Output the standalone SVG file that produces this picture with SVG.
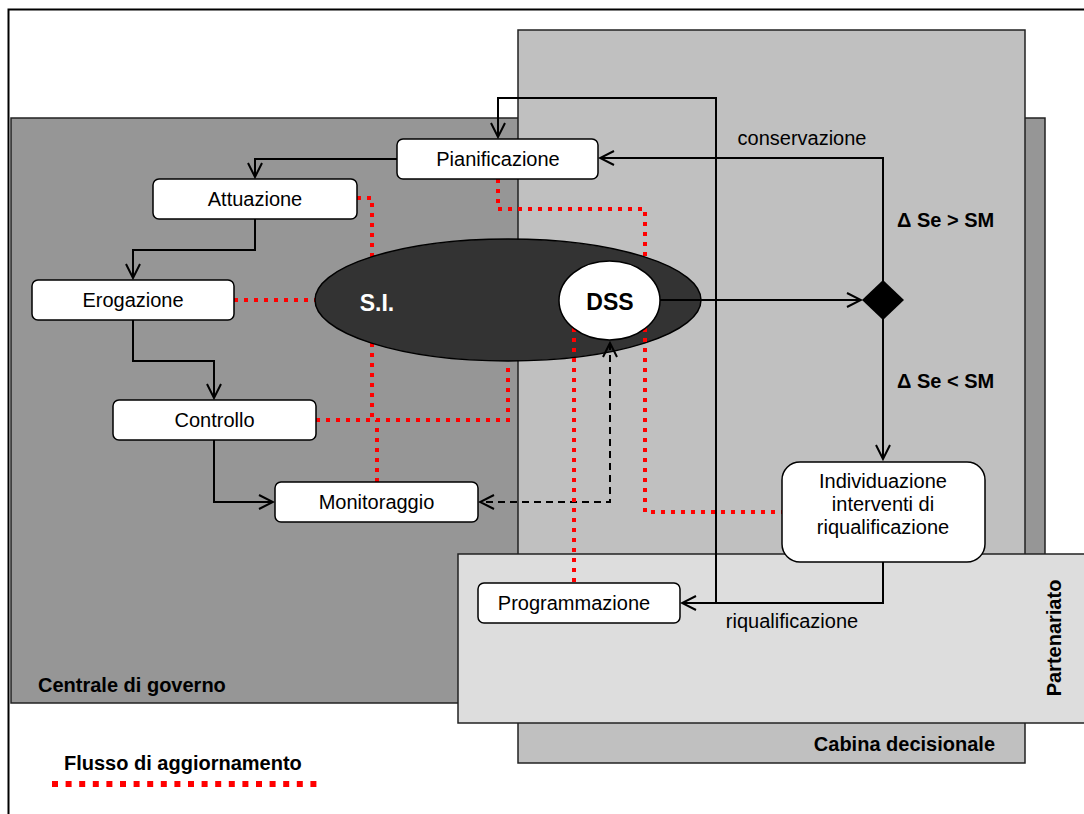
<svg xmlns="http://www.w3.org/2000/svg" width="1084" height="814" viewBox="0 0 1084 814">
<style>
.panel{stroke:#222;stroke-width:1.5}
.box{fill:#fff;stroke:#000;stroke-width:1.5}
.t{font-family:"Liberation Sans",Arial,sans-serif;font-size:20px;fill:#000;text-anchor:middle}
.b{font-family:"Liberation Sans",Arial,sans-serif;font-size:20px;font-weight:bold;fill:#000}
.c{fill:none;stroke:#000;stroke-width:2}
.d{fill:none;stroke:#000;stroke-width:2;stroke-dasharray:7 5}
.r{fill:none;stroke:#ff0000;stroke-width:4;stroke-dasharray:4 6}
</style>
<defs>
<marker id="arr" markerUnits="userSpaceOnUse" markerWidth="18" markerHeight="18" viewBox="0 0 18 18" refX="16" refY="9" orient="auto-start-reverse">
<path d="M2,2 L16,9 L2,16" fill="none" stroke="#000" stroke-width="2"/>
</marker>
</defs>
<rect x="0" y="0" width="1084" height="814" fill="#fff"/>
<rect x="8.5" y="9.5" width="1100" height="830" fill="#fff" stroke="#000" stroke-width="2"/>
<g id="centrale">
<rect class="panel" x="11" y="118" width="1034" height="585" fill="#969696"/>
<text class="b" x="38" y="692">Centrale di governo</text>
</g>
<g id="cabina">
<rect class="panel" x="518" y="30" width="507" height="733" fill="#c0c0c0"/>
<text class="b" x="995" y="751" text-anchor="end">Cabina decisionale</text>
</g>
<g id="partenariato">
<rect class="panel" x="458" y="554" width="640" height="169" fill="#dddddd"/>
<text class="b" transform="translate(1061,638) rotate(-90)" text-anchor="middle">Partenariato</text>
</g>
<g id="red-under">
<path class="r" d="M357,198 H372 V420"/>
<path class="r" d="M377,482 V420"/>
<path class="r" d="M316,420 H508 V362"/>
<path class="r" d="M234,300 H316"/>
<path class="r" d="M498,179 V209 H645 V258"/>
</g>
<g id="si">
<ellipse cx="508" cy="300" rx="193" ry="61" fill="#333333" stroke="#000" stroke-width="1.5"/>
<text x="377" y="311" font-family="Liberation Sans, Arial, sans-serif" font-size="23" font-weight="bold" fill="#fff" text-anchor="middle">S.I.</text>
</g>
<g id="connectors">
<path class="c" d="M716,603 V98 H498 V137" marker-end="url(#arr)"/>
<path class="c" d="M397,159 H255 V177" marker-end="url(#arr)"/>
<path class="c" d="M255,219 V250 H133 V278" marker-end="url(#arr)"/>
<path class="c" d="M133,320 V361 H214 V398" marker-end="url(#arr)"/>
<path class="c" d="M214,440 V502 H273" marker-end="url(#arr)"/>
<path class="c" d="M660,300 H861" marker-end="url(#arr)"/>
<path class="c" d="M883,282 V158 H600" marker-end="url(#arr)"/>
<path class="c" d="M883,318 V459" marker-end="url(#arr)"/>
<path class="c" d="M883,562 V603 H682" marker-end="url(#arr)"/>
<path class="d" d="M610,343 V502 H480" marker-start="url(#arr)" marker-end="url(#arr)"/>
<path class="r" d="M574,328 V582"/>
<path class="r" d="M645,328 V512 H782"/>
<polygon points="883,280 904,300 883,320 862,300" fill="#000"/>
<text class="t" x="802" y="145">conservazione</text>
<text class="b" x="897" y="227">Δ Se &gt; SM</text>
<text class="b" x="897" y="388">Δ Se &lt; SM</text>
<text class="t" x="792" y="628">riqualificazione</text>
</g>
<g id="dss">
<ellipse cx="609.5" cy="300.5" rx="50.5" ry="39.5" fill="#fff" stroke="#000" stroke-width="1.5"/>
<text x="610" y="310" font-family="Liberation Sans, Arial, sans-serif" font-size="23" font-weight="bold" fill="#000" text-anchor="middle">DSS</text>
</g>
<g id="pianificazione">
<rect class="box" x="397" y="139" width="201" height="40" rx="6"/>
<text class="t" x="498" y="166">Pianificazione</text>
</g>
<g id="attuazione">
<rect class="box" x="153" y="179" width="204" height="40" rx="6"/>
<text class="t" x="255" y="206">Attuazione</text>
</g>
<g id="erogazione">
<rect class="box" x="32" y="280" width="202" height="40" rx="6"/>
<text class="t" x="133" y="307">Erogazione</text>
</g>
<g id="controllo">
<rect class="box" x="113" y="400" width="203" height="40" rx="6"/>
<text class="t" x="214.5" y="427">Controllo</text>
</g>
<g id="monitoraggio">
<rect class="box" x="275" y="482" width="203" height="40" rx="6"/>
<text class="t" x="376.5" y="509">Monitoraggio</text>
</g>
<g id="programmazione">
<rect class="box" x="478" y="583" width="202" height="40" rx="6"/>
<text class="t" x="574" y="610">Programmazione</text>
</g>
<g id="individuazione">
<rect class="box" x="782" y="462" width="203" height="100" rx="18"/>
<text class="t" x="883" y="488">Individuazione</text>
<text class="t" x="883" y="511">interventi di</text>
<text class="t" x="883" y="534">riqualificazione</text>
</g>
<g id="legenda">
<text class="b" x="64" y="770">Flusso di aggiornamento</text>
<line x1="52" y1="784" x2="318" y2="784" stroke="#ff0000" stroke-width="6" stroke-dasharray="6 7.6"/>
</g>
</svg>
